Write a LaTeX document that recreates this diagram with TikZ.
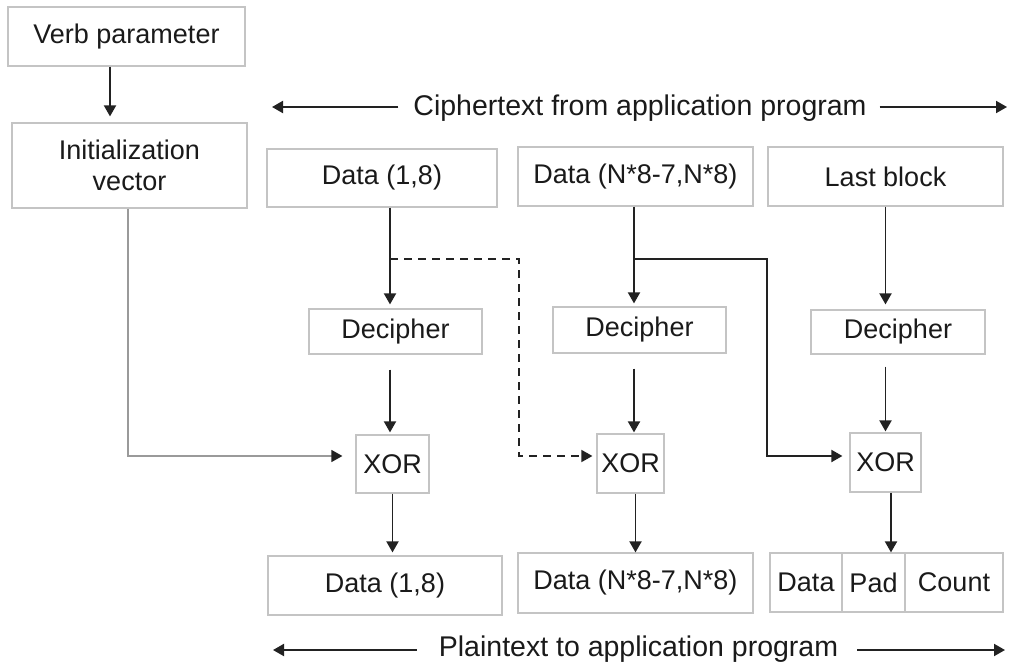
\documentclass[tikz,border=0pt]{standalone}
\usepackage{fontspec}
\setmainfont{Liberation Sans}
\usetikzlibrary{arrows.meta,calc}
\definecolor{boxgray}{HTML}{C4C4C4}
\definecolor{lin}{HTML}{222222}
\definecolor{txt}{HTML}{1A1A1A}
\definecolor{glin}{HTML}{9A9A9A}
\newcommand\bxf{\fontsize{27}{31}\selectfont}
\newcommand\lbf{\fontsize{28.5}{33}\selectfont}
\begin{document}
\begin{tikzpicture}[x=1pt,y=-1pt,
  box/.style={draw=boxgray, line width=1.2pt, inner sep=0pt, font=\bxf, text=txt, align=center},
  lbl/.style={inner sep=0pt, font=\lbf, text=txt},
  tip/.style={-{Triangle[length=11pt,width=12pt,color=lin]}},
  arr/.style={draw=lin, line width=1.9pt, tip},
  garr/.style={draw=glin, line width=1.3pt, tip},
  darr/.style={draw=lin, line width=1.6pt, dash pattern=on 8pt off 6pt, tip}]
\fill[white] (0,0) rectangle (1009,669);
\useasboundingbox (0,0) rectangle (1009,669);

% boxes
\node[box, minimum width=237pt, minimum height=59pt] (verb) at (126.5,36.5) {Verb parameter};
\node[box, minimum width=235pt, minimum height=85pt] (iv) at (129.5,165.5) {Initialization\\vector};
\node[box, minimum width=230pt, minimum height=58pt] (d1) at (382,178) {Data (1,8)};
\node[box, minimum width=235pt, minimum height=59pt] (d2) at (635.5,176.5) {Data (N*8-7,N*8)};
\node[box, minimum width=235pt, minimum height=59pt] (lb) at (885.5,176.5) {Last block};
\node[box, minimum width=173pt, minimum height=45pt] (dec1) at (395.5,331.5) {Decipher};
\node[box, minimum width=173pt, minimum height=46pt] (dec2) at (639.5,330) {Decipher};
\node[box, minimum width=174pt, minimum height=44pt] (dec3) at (898,332) {Decipher};
\node[box, minimum width=73pt, minimum height=58pt] (xor1) at (392.5,464) {XOR};
\node[box, minimum width=67pt, minimum height=59pt] (xor2) at (630.5,463.5) {XOR};
\node[box, minimum width=71pt, minimum height=59pt] (xor3) at (885.5,462.5) {XOR};
\node[box, minimum width=234pt, minimum height=59pt] (o1) at (385,585.5) {Data (1,8)};
\node[box, minimum width=235pt, minimum height=60pt] (o2) at (635.5,583) {Data (N*8-7,N*8)};
\node[box, minimum width=72pt, minimum height=59pt] (o3a) at (806,582.5) {Data};
\node[box, minimum width=63pt, minimum height=59pt] (o3b) at (873.5,582.5) {Pad};
\node[box, minimum width=98pt, minimum height=59pt] (o3c) at (954,582.5) {Count};

% labels
\node[lbl, anchor=base] (ct) at (640,115) {Ciphertext from application program};
\node[lbl, anchor=base] (pt) at (638.5,656) {Plaintext to application program};
\coordinate (ctL) at (272,107);
\coordinate (ctR) at (1007,107);
\coordinate (ptL) at (273,650);
\coordinate (ptR) at (1005,650);
\draw[arr, shorten <=15pt] (ct.west |- ctL) -- (ctL);
\draw[arr, shorten <=13pt] (ct.east |- ctR) -- (ctR);
\draw[arr, shorten <=22pt] (pt.west |- ptL) -- (ptL);
\draw[arr, shorten <=19pt] (pt.east |- ptR) -- (ptR);

% junctions
\coordinate (j1) at (390,259);
\coordinate (j2) at (634,259);
\coordinate (k1) at (519,456);
\coordinate (k2) at (767,456);

% verb -> iv
\draw[arr, shorten >=6pt] (verb.south -| 110,0) -- (iv.north -| 110,0);

% column 1
\draw[arr, shorten >=4pt] (j1 |- d1.south) -- (j1 |- dec1.north);
\draw[arr, shorten <=15pt, shorten >=2pt] (j1 |- dec1.south) -- (j1 |- xor1.north);
\draw[arr, shorten >=3pt] (xor1.south) -- (xor1.south |- o1.north);
\draw[garr, shorten >=13pt] (iv.south -| 128,0) |- ([yshift=8pt]xor1.west);
\draw[darr, shorten >=4pt] (j1) -| (k1) -- (k1 -| xor2.west);

% column 2
\draw[arr, shorten >=3pt] (j2 |- d2.south) -- (j2 |- dec2.north);
\draw[arr, shorten <=15pt, shorten >=1pt] (j2 |- dec2.south) -- (j2 |- xor2.north);
\draw[arr] ([xshift=5pt]xor2.south) -- ([xshift=5pt]xor2.south |- o2.north);
\draw[arr, shorten >=7pt] (j2) -| (k2) -- (k2 -| xor3.west);

% column 3
\draw[arr, shorten >=5pt] (lb.south) -- (lb.south |- dec3.north);
\draw[arr, shorten <=12pt, shorten >=1pt] (lb.south |- dec3.south) -- (lb.south |- xor3.north);
\draw[arr] ([xshift=5.5pt]xor3.south) -- ([xshift=5.5pt]xor3.south |- o3b.north);
\end{tikzpicture}
\end{document}
